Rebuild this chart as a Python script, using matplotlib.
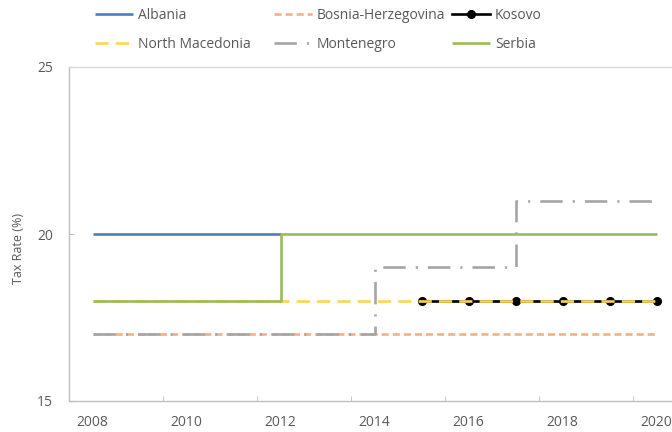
import matplotlib
matplotlib.use("Agg")
import matplotlib.pyplot as plt
from matplotlib.ticker import FixedLocator

plt.rcParams['font.family'] = ['Open Sans', 'DejaVu Sans']

# ---- data ----
years_albania = [2008, 2009, 2010, 2011, 2012]
albania = [20, 20, 20, 20, 20]

years_all = [2008, 2009, 2010, 2011, 2012, 2013, 2014, 2015, 2016, 2017, 2018, 2019, 2020]
bosnia = [17, 17, 17, 17, 17, 17, 17, 17, 17, 17, 17, 17, 17]
north_macedonia = [18, 18, 18, 18, 18, 18, 18, 18, 18, 18, 18, 18, 18]
montenegro = [17, 17, 17, 17, 17, 17, 19, 19, 19, 21, 21, 21, 21]
serbia = [18, 18, 18, 18, 20, 20, 20, 20, 20, 20, 20, 20, 20]

years_kosovo = [2015, 2016, 2017, 2018, 2019, 2020]
kosovo = [18, 18, 18, 18, 18, 18]

xtick_labels = ["2008", "2010", "2012", "2014", "2016", "2018", "2020"]
xtick_years = [2008, 2010, 2012, 2014, 2016, 2018, 2020]
ytick_values = [15, 20, 25]

TXT = "#595959"
W, H = 672, 432
fig = plt.figure(figsize=(W / 100, H / 100), dpi=100)
ax = fig.add_axes([69 / W, (H - 401) / H, 611 / W, (401 - 67) / H])

lw = 1.9
l_alb, = ax.plot(years_albania, albania, drawstyle='steps-post', color='#4a7ebb', lw=lw,
                 solid_capstyle='butt', label='Albania')
l_bos, = ax.plot(years_all, bosnia, drawstyle='steps-post', color='#f4b183', lw=lw,
                 dashes=(2.7, 1.5), label='Bosnia-Herzegovina')
l_kos, = ax.plot(years_kosovo, kosovo, drawstyle='steps-post', color='black', lw=lw,
                 marker='o', markersize=5.5, label='Kosovo')
l_nm, = ax.plot(years_all, north_macedonia, drawstyle='steps-post', color='#ffd54f', lw=lw,
                dashes=(5, 2.7), label='North Macedonia')
l_mon, = ax.plot(years_all, montenegro, drawstyle='steps-post', color='#a5a5a5', lw=lw,
                 dashes=(8.5, 3.8, 0.8, 3.8), label='Montenegro')
l_ser, = ax.plot(years_all, serbia, drawstyle='steps-post', color='#9bbb59', lw=lw,
                 solid_capstyle='butt', label='Serbia')

ax.set_xlim(2007.5, 2020.5)
ax.set_ylim(15, 25)

ax.spines['right'].set_visible(False)
ax.spines['left'].set_color('#bfbfbf')
ax.spines['bottom'].set_color('#bfbfbf')
ax.spines['top'].set_color('#d9d9d9')
for s in ['left', 'bottom', 'top']:
    ax.spines[s].set_linewidth(1.0)

ax.set_xticks(xtick_years)
ax.set_xticklabels(xtick_labels)
ax.xaxis.set_minor_locator(FixedLocator([2009.5, 2011.5, 2013.5, 2015.5, 2017.5, 2019.5]))
ax.tick_params(axis='x', which='major', length=0, pad=10, labelsize=10, labelcolor=TXT)
ax.tick_params(axis='x', which='minor', direction='in', length=3.6, color='#bfbfbf')
ax.set_yticks(ytick_values)
ax.tick_params(axis='y', which='major', direction='in', length=3.6, color='#bfbfbf',
               pad=11.5, labelsize=10, labelcolor=TXT)

fig.text(18 / W, 1 - 248 / H, "Tax Rate (%)", rotation=90, ha='center', va='center',
         fontsize=9, color=TXT)

cols = [([l_alb, l_nm], 95), ([l_bos, l_mon], 274), ([l_kos, l_ser], 452)]
for handles, xpx in cols:
    fig.legend(handles=handles, labels=[h.get_label() for h in handles],
               loc='upper left', bbox_to_anchor=(xpx / W, 1 - 8 / H),
               frameon=False, borderpad=0, borderaxespad=0, handlelength=2.75,
               handletextpad=0.35, labelspacing=1.0, fontsize=10, labelcolor=TXT)

fig.savefig("out.png", dpi=100)
